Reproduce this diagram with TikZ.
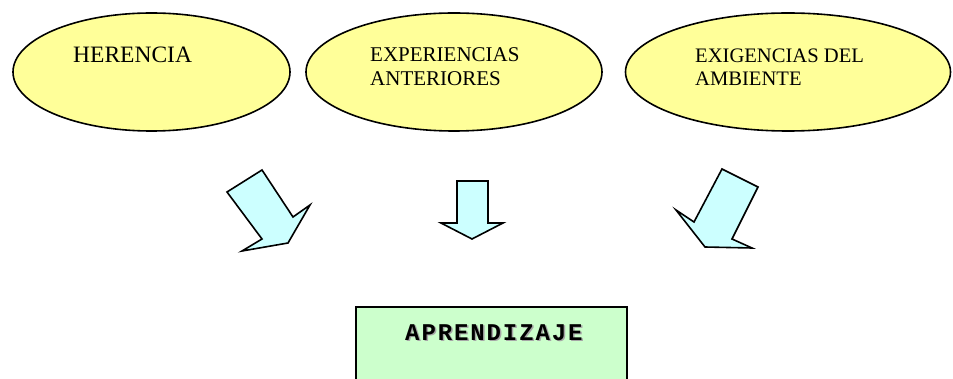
\documentclass[tikz,border=0pt]{standalone}
\usepackage{fontspec}
\setmainfont{Liberation Serif}
\newfontfamily\monob{Liberation Mono}
\usetikzlibrary{shapes.geometric}
\definecolor{ellfill}{HTML}{FFFF99}
\definecolor{arrfill}{HTML}{CCFFFF}
\definecolor{boxfill}{HTML}{CCFFCC}
\tikzset{
  ell/.style={ellipse, draw=black, line width=1.6pt, fill=ellfill, inner sep=0pt},
  lbl/.style={anchor=base west, inner sep=0pt, font=\fontsize{21}{24}\selectfont},
  blockarrow/.style={draw=black, line width=1.6pt, fill=arrfill, line join=miter},
  resbox/.style={draw=black, line width=1.8pt, fill=boxfill},
  mono/.style={anchor=base west, inner sep=0pt, font=\monob\bfseries\fontsize{24}{26}\selectfont}
}
\newcommand{\aprtext}{A\kern1.9pt P\kern1.9pt R\kern1.9pt E\kern1.9pt N\kern1.9pt D\kern1.9pt I\kern1.9pt Z\kern1.9pt A\kern1.9pt J\kern1.9pt E}
\begin{document}
\begin{tikzpicture}[x=1pt,y=-1pt]
\useasboundingbox (0,0) rectangle (953,379);
% ellipses
\node[ell, minimum width=277pt, minimum height=118pt] (e1) at (151.5,72) {};
\node[ell, minimum width=296pt, minimum height=118pt] (e2) at (454,72) {};
\node[ell, minimum width=325pt, minimum height=118pt] (e3) at (788,72) {};
\node[lbl, font=\fontsize{23.5}{26}\selectfont] (t1) at (73,63) {HERENCIA};
\node[lbl] (t2a) at (370,62) {EXPERIENCIAS};
\node[lbl] (t2b) at (370,86) {ANTERIORES};
\node[lbl, font=\fontsize{20.6}{24}\selectfont] (t3a) at (695,63) {EXIGENCIAS DEL};
\node[lbl, font=\fontsize{20.6}{24}\selectfont] (t3b) at (695,86) {AMBIENTE};
% block arrows
\draw[blockarrow] (227,192) -- (262,170) -- (293,217) -- (310,205) -- (288,243) -- (242,251) -- (262,239) -- cycle;
\draw[blockarrow] (457,181) -- (488,181) -- (488,223) -- (503,223) -- (472,239) -- (441,223) -- (457,223) -- cycle;
\draw[blockarrow] (722,169) -- (758,187) -- (732,239) -- (752,248) -- (705,247) -- (676,210) -- (694,222) -- cycle;
% result box
\draw[resbox] (356,307) rectangle (627,400);
\node[mono, text=black!35] (shadow) at (406.5,341.5) {\aprtext};
\node[mono] (apr) at (405,340) {\aprtext};
\end{tikzpicture}
\end{document}
